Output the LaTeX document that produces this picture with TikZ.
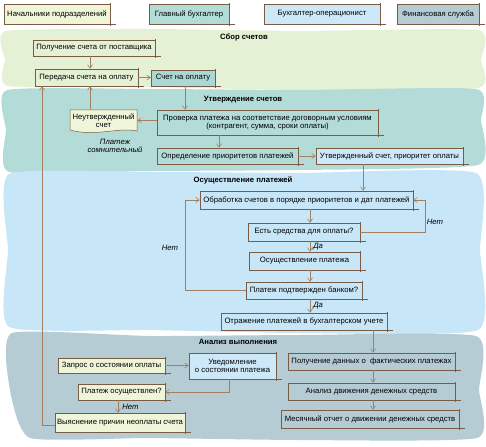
\documentclass[tikz,border=0pt]{standalone}
\usepackage{fontspec}
\setmainfont{Liberation Sans}
\usetikzlibrary{arrows.meta,calc}
\definecolor{rgreen}{HTML}{E5F1D4}
\definecolor{rteal}{HTML}{B3DCD8}
\definecolor{dteal}{HTML}{ABD8D4}
\definecolor{rblue}{HTML}{C7E6F8}
\definecolor{rgray}{HTML}{B5CCD5}
\definecolor{lgreen}{HTML}{EEF5D8}
\definecolor{lblue}{HTML}{CDE9F9}
\definecolor{bord}{HTML}{7A5C44}
\definecolor{conn}{HTML}{A08060}
\tikzset{
  every node/.style={font=\fontsize{7.7}{8.6}\selectfont, inner sep=1pt},
  box/.style={draw=bord, line width=0.5pt, align=center, minimum width=#1},
  box/.default=20pt,
  skline/.style={draw=bord, line width=0.9pt},
  arr/.style={draw=conn, line width=0.6pt, -{Straight Barb[length=3.5pt,width=5pt]}},
  ttl/.style={font=\fontsize{7.7}{8.6}\selectfont\bfseries},
  lbl/.style={font=\fontsize{7.7}{8.6}\selectfont\itshape},
}
\begin{document}
\begin{tikzpicture}[x=1pt,y=-1pt]
\useasboundingbox (0,0) rectangle (486,446);
% regions
\fill[rgreen] plot[smooth cycle, tension=0.3] coordinates {(6,31) (150,29) (300,31) (478,30) (481,60) (478,88) (300,90) (150,87) (8,86) (5,60)};
\fill[rteal] plot[smooth cycle, tension=0.3] coordinates {(7,90) (150,89) (300,90) (476,89) (481,120) (478,165) (300,170) (150,171) (9,172) (6,130)};
\fill[rblue] plot[smooth cycle, tension=0.3] coordinates {(9,174) (150,172) (300,173) (476,173) (480,250) (478,330) (300,333) (150,330) (9,327) (8,250)};
\fill[rgray] plot[smooth cycle, tension=0.3] coordinates {(12,333) (150,336) (300,335) (476,336) (479,390) (477,438) (300,440) (150,438) (30,438) (10,390)};
% legend
\node[box=106pt, minimum height=20pt, fill=lgreen] (L1) at (57,14) {Начальники подразделений};
\node[box=80pt, minimum height=20pt, fill=rteal] (L2) at (189,14) {Главный бухгалтер};
\node[box=116pt, minimum height=20pt, fill=lblue] (L3) at (322,14) {Бухгалтер-операционист};
\node[box=82pt, minimum height=20pt, fill=rgray] (L4) at (438,14) {Финансовая служба};
% titles
\node[ttl] (t1) at (244,37) {Сбор счетов};
\node[ttl] (t2) at (243,100) {Утверждение счетов};
\node[ttl] (t3) at (243,180) {Осуществление платежей};
\node[ttl] (t4) at (238,342) {Анализ выполнения};
% section 1
\node[box=122pt, minimum height=16pt] (n1) at (94,48) {Получение счета от поставщика};
\node[box=103pt, minimum height=17pt] (n2) at (86.5,77.5) {Передача счета на оплату};
\node[box=64pt, minimum height=16pt, fill=dteal] (n3) at (183,78) {Счет на оплату};
% section 2
\path[fill=lgreen, draw=bord, line width=0.5pt] (70,110) -- (137,110) -- (137,131) .. controls (118,127) and (95,137) .. (70,130) -- cycle;
\node[align=center, minimum width=67pt, minimum height=22pt] (n4) at (103.5,120.5) {Неутвержденный\\[-1pt]счет};
\node[lbl, align=center] (lb1) at (115,146) {Платеж\\[-1pt]сомнительный};
\node[box=221pt, minimum height=25pt] (n5) at (267.5,122.5) {Проверка платежа на соответствие договорным условиям\\(контрагент, сумма, сроки оплаты)};
\node[box=141pt, minimum height=16pt] (n6) at (227.5,156) {Определение приоритетов платежей};
\node[box=147pt, minimum height=16pt, fill=lblue] (n7) at (389.5,156) {Утвержденный счет, приоритет оплаты};
% section 3
\node[box=213pt, minimum height=18pt] (n8) at (306.5,200) {Обработка счетов в порядке приоритетов и дат платежей};
\node[box=112pt, minimum height=18pt] (n9) at (304,232) {Есть средства для оплаты?};
\node[box=111pt, minimum height=18pt] (n10) at (304.5,261) {Осуществление платежа};
\node[box=116pt, minimum height=17pt] (n11) at (304,290.5) {Платеж подтвержден банком?};
\node[box=166pt, minimum height=17pt] (n12) at (304,321.5) {Отражение платежей в бухгалтерском учете};
% section 4
\node[box=107pt, minimum height=15pt, fill=lgreen] (n13) at (111.5,365.5) {Запрос о состоянии оплаты};
\node[box=87pt, minimum height=26pt, fill=lblue] (n14) at (232.5,366) {Уведомление\\о состоянии платежа};
\node[box=87pt, minimum height=16pt, fill=lgreen] (n15) at (121.5,392) {Платеж осуществлен?};
\node[box=130pt, minimum height=19pt, fill=lgreen] (n16) at (120,422.5) {Выяснение причин неоплаты счета};
\node[box=167pt, minimum height=17pt] (n17) at (371.5,361.5) {Получение данных о\ \ фактических платежах};
\node[box=167pt, minimum height=17pt] (n18) at (371.5,391.5) {Анализ движения денежных средств};
\node[box=178pt, minimum height=18pt] (n19) at (370,419) {Месячный отчет о движении денежных средств};
% sketchy overshoot lines
\foreach \n in {L1,L2,L3,L4,n1,n2,n3,n5,n6,n7,n8,n9,n10,n11,n12,n13,n14,n15,n16,n17,n18,n19} {
  \draw[skline] ([xshift=0.5pt,yshift=0.5pt]\n.north east) -- ([xshift=0.5pt,yshift=-2pt]\n.south east);
  \draw[skline] ([yshift=-0.5pt]\n.south west) -- ([xshift=6pt,yshift=-0.5pt]\n.south east);
}
% connectors
\draw[arr] ([xshift=-4pt]n1.south) -- ([xshift=-4pt]n1.south |- n2.north);
\draw[arr] (n2.east) -- (n2.east -| n3.west);
\draw[arr] ([xshift=2pt]n3.south) -- ([xshift=2pt]n3.south |- n5.north);
\draw[arr] (n5.west |- n4.east) -- (n4.east);
\draw[arr] ([xshift=-13.5pt]n4.north) -- ([xshift=-13.5pt]n4.north |- n2.south);
\draw[arr] ([xshift=-48.5pt]n5.south) -- ([xshift=-48.5pt]n5.south |- n6.north);
\draw[arr] (n6.east) -- (n6.east -| n7.west);
\draw[arr] ([xshift=-26.5pt]n7.south) -- ([xshift=-26.5pt]n7.south |- n8.north);
\draw[arr] ([xshift=3.5pt]n8.south) -- ([xshift=3.5pt]n8.south |- n9.north);
\draw[arr] ([xshift=6pt]n9.south) -- node[lbl, right=2pt] {Да} ([xshift=6pt]n9.south |- n10.north);
\draw[arr] ([xshift=5.5pt]n10.south) -- ([xshift=5.5pt]n10.south |- n11.north);
\draw[arr] ([xshift=6pt]n11.south) -- node[lbl, right=2pt] {Да} ([xshift=6pt]n11.south |- n12.north);
\coordinate (c1) at (425,200);
\coordinate (c2) at (185,200);
\draw[arr] (n9.east) -| (c1) -- (n8.east);
\node[lbl] (lb2) at (435,222) {Нет};
\draw[arr] (n11.west) -| (c2) -- (n8.west);
\node[lbl] (lb3) at (170,248) {Нет};
\draw[arr] ([xshift=69pt]n12.south) -- ([xshift=69pt]n12.south |- n17.north);
\draw[arr] ([xshift=1.5pt]n17.south) -- ([xshift=1.5pt]n17.south |- n18.north);
\draw[arr] ([xshift=1.5pt]n18.south) -- ([xshift=1.5pt]n18.south |- n19.north);
\draw[arr] (n13.east) -- (n13.east -| n14.west);
\draw[arr] ([xshift=-3.5pt]n14.south) |- (n15.east);
\draw[arr] ([xshift=-3.5pt]n15.south) -- node[lbl, right=3pt] {Нет} ([xshift=-3.5pt]n15.south |- n16.north);
\draw[arr] ([yshift=-3pt]n16.west) -| ([xshift=-44.5pt]n2.south);
\end{tikzpicture}
\end{document}
